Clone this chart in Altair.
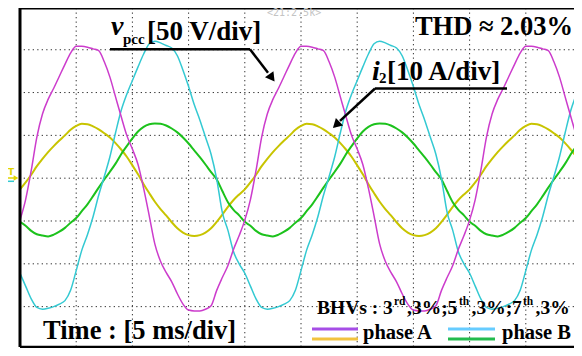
import altair as alt
import pandas as pd

TIME_MS = [i * 0.5 for i in range(101)]

# phase A voltage (V), magenta trace
V_PHASE_A = [-49, -25, 9, 48, 75, 92, 105, 119, 133, 146, 154, 154, 153, 151, 149, 136, 118, 95, 72, 50,
             34, 16, -12, -44, -77, -97, -110, -121, -135, -147, -154, -155, -155, -153, -149, -131, -116, -102, -83, -67,
             -49, -25, 9, 48, 75, 92, 105, 119, 133, 146, 154, 154, 153, 151, 149, 136, 118, 95, 72, 50,
             34, 16, -12, -44, -77, -97, -110, -121, -135, -147, -154, -155, -155, -153, -149, -131, -116, -102, -83, -67,
             -49, -25, 9, 48, 75, 92, 105, 119, 133, 146, 154, 154, 153, 151, 149, 136, 118, 95, 72, 50, 34]

# phase B voltage (V), cyan trace
V_PHASE_B = [-111, -126, -141, -151, -153, -152, -150, -147, -143, -131, -108, -84, -66, -45, -20, 2, 25, 53, 79, 98,
             114, 130, 145, 157, 160, 158, 155, 152, 143, 126, 107, 86, 68, 48, 28, -1, -40, -61, -86, -100,
             -111, -126, -141, -151, -153, -152, -150, -147, -143, -131, -108, -84, -66, -45, -20, 2, 25, 53, 79, 98,
             114, 130, 145, 157, 160, 158, 155, 152, 143, 126, 107, 86, 68, 48, 28, -1, -40, -61, -86, -100,
             -111, -126, -141, -151, -153, -152, -150, -147, -143, -131, -108, -84, -66, -45, -20, 2, 25, 53, 79, 98, 114]

# phase A current (A), yellow trace
I_PHASE_A = [-2.6, -1.0, 0.8, 2.8, 4.5, 6.1, 7.5, 8.8, 10.0, 11.3, 12.2, 12.7, 12.6, 12.1, 11.4, 10.5, 9.5, 8.2, 6.7, 5.0,
             3.0, 0.9, -1.4, -3.5, -5.5, -7.2, -8.7, -10.3, -11.7, -12.7, -13.3, -13.5, -13.3, -12.7, -11.7, -10.2, -8.5, -6.7, -5.1, -3.8,
             -2.6, -1.0, 0.8, 2.8, 4.5, 6.1, 7.5, 8.8, 10.0, 11.3, 12.2, 12.7, 12.6, 12.1, 11.4, 10.5, 9.5, 8.2, 6.7, 5.0,
             3.0, 0.9, -1.4, -3.5, -5.5, -7.2, -8.7, -10.3, -11.7, -12.7, -13.3, -13.5, -13.3, -12.7, -11.7, -10.2, -8.5, -6.7, -5.1, -3.8,
             -2.6, -1.0, 0.8, 2.8, 4.5, 6.1, 7.5, 8.8, 10.0, 11.3, 12.2, 12.7, 12.6, 12.1, 11.4, 10.5, 9.5, 8.2, 6.7, 5.0, 3.0]

# phase B current (A), green trace
I_PHASE_B = [-10.2, -11.1, -12.3, -13.1, -13.4, -13.6, -13.2, -12.5, -11.6, -10.4, -9.3, -7.7, -6.1, -4.2, -2.2, -0.3, 1.5, 3.4, 5.6, 7.5,
             9.3, 10.9, 12.0, 12.6, 12.8, 12.7, 12.3, 11.6, 10.7, 9.5, 8.1, 6.5, 4.9, 3.2, 1.4, -0.3, -3.0, -5.6, -7.4, -8.7,
             -10.2, -11.1, -12.3, -13.1, -13.4, -13.6, -13.2, -12.5, -11.6, -10.4, -9.3, -7.7, -6.1, -4.2, -2.2, -0.3, 1.5, 3.4, 5.6, 7.5,
             9.3, 10.9, 12.0, 12.6, 12.8, 12.7, 12.3, 11.6, 10.7, 9.5, 8.1, 6.5, 4.9, 3.2, 1.4, -0.3, -3.0, -5.6, -7.4, -8.7,
             -10.2, -11.1, -12.3, -13.1, -13.4, -13.6, -13.2, -12.5, -11.6, -10.4, -9.3, -7.7, -6.1, -4.2, -2.2, -0.3, 1.5, 3.4, 5.6, 7.5, 9.3]

V_PER_DIV = 50
A_PER_DIV = 10
GRID_T = [5, 10, 15, 20, 25, 30, 35, 40, 45]
GRID_DIV = [-3, -2, -1, 0, 1, 2, 3]

W, H = 554, 339          # plot area; whole chart = 566 x 340
T_MAX = 50 * W / 562     # 10 div of 5 ms spread over 562 px in the screenshot
SERIF = "Liberation Serif"

rows = []
for name, vals, per_div in [("vA", V_PHASE_A, V_PER_DIV), ("vB", V_PHASE_B, V_PER_DIV),
                            ("iA", I_PHASE_A, A_PER_DIV), ("iB", I_PHASE_B, A_PER_DIV)]:
    for t, v in zip(TIME_MS, vals):
        rows.append({"t": t, "div": v / per_div, "series": name})
df = pd.DataFrame(rows)

xenc = alt.X("t:Q", scale=alt.Scale(domain=[0, T_MAX], nice=False, zero=False), axis=None)
yenc = alt.Y("div:Q", scale=alt.Scale(domain=[-3.943, 3.975], nice=False, zero=False), axis=None)

one = pd.DataFrame({"k": [0]})


def trace(name, color, width):
    return alt.Chart(df).transform_filter(alt.datum.series == name).mark_line(
        color=color, strokeWidth=width, interpolate="monotone", clip=True).encode(x=xenc, y=yenc)


def txt(s, x, y, size, italic=False, color="black", align="left", font=SERIF, weight="bold"):
    return alt.Chart(pd.DataFrame({"s": [s]})).mark_text(
        align=align, baseline="alphabetic", fontSize=size, fontWeight=weight,
        fontStyle="italic" if italic else "normal", font=font, color=color).encode(
        x=alt.value(x), y=alt.value(y), text="s:N")


def seg(x1, y1, x2, y2, color="black", width=2.5):
    return alt.Chart(one).mark_rule(color=color, strokeWidth=width).encode(
        x=alt.value(x1), y=alt.value(y1), x2=alt.value(x2), y2=alt.value(y2))


def head(x, y, angle, size=110, shape="triangle", color="black"):
    return alt.Chart(one).mark_point(shape=shape, filled=True, opacity=1, color=color,
                                     size=size, angle=angle).encode(x=alt.value(x), y=alt.value(y))


grid_v = alt.Chart(pd.DataFrame({"t": GRID_T})).mark_rule(
    color="#333333", strokeDash=[1.3, 3.2], strokeWidth=1).encode(x=xenc)
grid_h = alt.Chart(pd.DataFrame({"div": GRID_DIV})).mark_rule(
    color="#333333", strokeDash=[1.3, 3.2], strokeWidth=1).encode(y=yenc)

layers = [
    grid_v, grid_h,
    trace("iA", "#c8c400", 2.0),
    trace("iB", "#1cc21c", 2.0),
    trace("vB", "#33c9d2", 1.5),
    trace("vA", "#cc3ccc", 1.5),
    # frame
    seg(0, 0, 0, H, width=3),
    seg(0, 0.5, W, 0.5, width=2),
    seg(0, H, W, H, width=2.5),
    # scope status text
    txt("<21:2.5k>", 247, 8, 10, color="#c4c4c4", font="DejaVu Sans Mono", weight="normal"),
    # trigger marker
    txt("T", -9, 167, 9, color="#e0d400", align="center", font="DejaVu Sans"),
    seg(-15, 170, -6, 170, color="#e0d400", width=1.5),
    head(-4, 170, 0, size=30, shape="triangle-right", color="#e0d400"),
    seg(-12, 173.3, -6, 173.3, color="#33c9d2", width=1.5),
    # annotations
    txt("THD \u2248 2.03%", 553, 26.5, 26.5, align="right"),
    txt("v", 91, 26.5, 28, italic=True),
    txt("pcc", 103, 35.5, 15),
    txt("[50 V/div]", 127, 32.4, 27),
    seg(90, 41.2, 230, 41.2),
    seg(230, 41.2, 248, 64.8),
    head(251, 68.7, 143.7),
    txt("i", 352, 71.7, 28, italic=True),
    txt("2", 359, 75, 15),
    txt("[10 A/div]", 367, 71.7, 27),
    seg(355, 80.5, 487, 80.5),
    seg(355, 80.5, 320, 112.9),
    head(317.3, 115.8, 226.4),
    txt("Time : [5 ms/div]", 23, 331, 26.5),
    txt("BHVs : 3", 297, 306.4, 19.5),
    txt("rd", 374, 296.6, 11.5),
    txt(",3%;5", 387, 306.4, 19.5),
    txt("th", 439, 296.6, 11.5),
    txt(",3%;7", 451.5, 306.4, 19.5),
    txt("th", 503, 296.6, 11.5),
    txt(",3%", 515.5, 306.4, 19.5),
    # legend
    seg(292, 321, 338, 321, color="#a64ee6", width=3),
    seg(292, 331, 338, 331, color="#f2c33e", width=3),
    txt("phase A", 343, 331, 20.5),
    seg(428, 321, 475, 321, color="#66ccff", width=3),
    seg(428, 331, 475, 331, color="#22bb4e", width=3),
    txt("phase B", 482, 331, 20.5),
]

chart = alt.layer(*layers).properties(
    width=W, height=H,
    padding={"left": 12, "top": 0, "right": 0, "bottom": 1},
    autosize=alt.AutoSizeParams(type="none"),
    background="white",
).configure_view(stroke=None)

chart.save("out.html", embed_options={"renderer": "svg", "actions": False})
